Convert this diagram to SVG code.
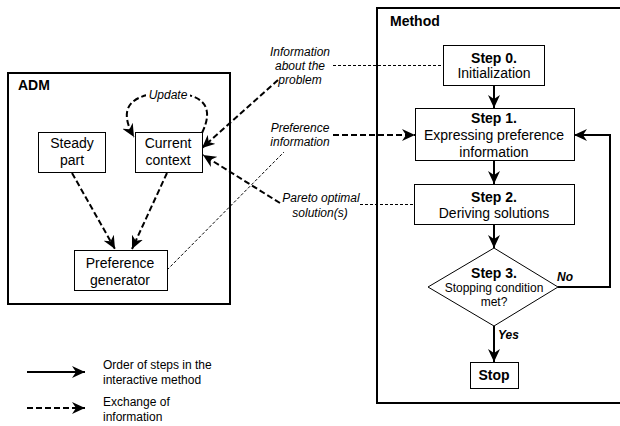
<svg xmlns="http://www.w3.org/2000/svg" width="620" height="426" viewBox="0 0 620 426">
<defs>
<marker id="ah" markerUnits="userSpaceOnUse" markerWidth="14" markerHeight="12" refX="13" refY="6" orient="auto">
<path d="M0,0 L13,6 L0,12 L4,6 z" fill="#000"/>
</marker>
</defs>
<style>
text{font-family:"Liberation Sans",Arial,sans-serif;fill:#000}
.n{font-size:14px;text-anchor:middle}
.b{font-size:14px;font-weight:bold}
.bm{font-size:14px;font-weight:bold;text-anchor:middle}
.lab{font-size:12px;font-style:italic;text-anchor:middle}
.leg{font-size:12px}
.box{fill:#fff;stroke:#000;stroke-width:1}
.cont{fill:none;stroke:#000;stroke-width:2}
.solid{fill:none;stroke:#000;stroke-width:2;marker-end:url(#ah)}
.dash{fill:none;stroke:#000;stroke-width:2;stroke-dasharray:6,3;marker-end:url(#ah)}
.thin{fill:none;stroke:#000;stroke-width:1;stroke-dasharray:3,2}
</style>
<rect width="620" height="426" fill="#fff"/>
<g id="adm">
<rect class="cont" x="8" y="73" width="222" height="231"/>
<text class="b" x="18" y="90">ADM</text>
</g>
<g id="method">
<path class="cont" d="M622,8 H377 V403 H622"/>
<text class="b" x="390" y="26">Method</text>
</g>
<g id="connectors">
<path class="thin" d="M333,65.5 H443"/>
<path class="thin" d="M360,204.5 H414"/>
<path class="thin" d="M167,270 L284,152"/>
<path class="dash" d="M278,80 L202,148"/>
<path class="dash" d="M333,135 H415"/>
<path class="dash" d="M280,203 L203,155"/>
<path class="dash" d="M72,173 L115,249"/>
<path class="dash" d="M167,173 L132,249"/>
<path class="dash" d="M202,133 C216,104 200,93 168,93 C136,93 115,104 134,137"/>
<path class="solid" d="M494,85 V108"/>
<path class="solid" d="M494,160 V184"/>
<path class="solid" d="M494,224 V248"/>
<path class="solid" d="M494,326 V362"/>
<path class="solid" d="M558,287 H610 V135 H574"/>
</g>
<g id="update">
<rect x="146" y="88" width="44" height="14" fill="#fff"/>
<text class="lab" x="168" y="99">Update</text>
</g>
<g id="steady">
<rect class="box" x="38.5" y="132.5" width="67" height="40"/>
<text class="n" x="72" y="148">Steady</text>
<text class="n" x="72" y="165">part</text>
</g>
<g id="current">
<rect class="box" x="135.5" y="132.5" width="67" height="40"/>
<text class="n" x="168" y="148">Current</text>
<text class="n" x="168" y="165">context</text>
</g>
<g id="prefgen">
<rect class="box" x="74.5" y="250.5" width="93" height="40"/>
<text class="n" x="120" y="268">Preference</text>
<text class="n" x="120" y="285">generator</text>
</g>
<g id="lab-info">
<text class="lab" x="300" y="56">Information</text>
<text class="lab" x="300" y="70">about the</text>
<text class="lab" x="300" y="84">problem</text>
</g>
<g id="lab-pref">
<text class="lab" x="300" y="132">Preference</text>
<text class="lab" x="300" y="146">information</text>
</g>
<g id="lab-pareto">
<text class="lab" x="321" y="202">Pareto optimal</text>
<text class="lab" x="320" y="217">solution(s)</text>
</g>
<g id="step0">
<rect class="box" x="443.5" y="45.5" width="101" height="40"/>
<text class="bm" x="494" y="63">Step 0.</text>
<text class="n" x="494" y="78">Initialization</text>
</g>
<g id="step1">
<rect class="box" x="415.5" y="108.5" width="159" height="52"/>
<text class="bm" x="494" y="123">Step 1.</text>
<text class="n" x="494" y="140">Expressing preference</text>
<text class="n" x="494" y="157">information</text>
</g>
<g id="step2">
<rect class="box" x="414.5" y="184.5" width="160" height="40"/>
<text class="bm" x="494" y="202">Step 2.</text>
<text class="n" x="494" y="218">Deriving solutions</text>
</g>
<g id="step3">
<path class="box" d="M494,248 L558,287 L494,326 L428,287 Z"/>
<text class="bm" x="494" y="278">Step 3.</text>
<text class="leg" x="494" y="292" text-anchor="middle">Stopping condition</text>
<text class="leg" x="494" y="306" text-anchor="middle">met?</text>
</g>
<g id="lab-no"><text x="565" y="281" font-size="12" font-weight="bold" font-style="italic" text-anchor="middle">No</text></g>
<g id="lab-yes"><text x="498" y="339" font-size="12" font-weight="bold" font-style="italic">Yes</text></g>
<g id="stop">
<rect class="box" x="470.5" y="362.5" width="48" height="26"/>
<text class="bm" x="494" y="380">Stop</text>
</g>
<g id="legend">
<path class="solid" d="M27,372 H85"/>
<path class="dash" d="M27,408 H85"/>
<text class="leg" x="103" y="369">Order of steps in the</text>
<text class="leg" x="103" y="384">interactive method</text>
<text class="leg" x="103" y="406">Exchange of</text>
<text class="leg" x="103" y="421">information</text>
</g>
</svg>
